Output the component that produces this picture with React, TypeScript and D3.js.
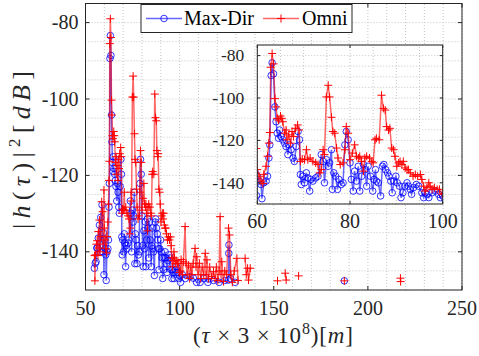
import React from 'react';
import * as d3 from 'd3';

// ---------- data ----------
const omniX = [
  54.8, 55.0, 55.3, 55.8, 56.2, 56.6, 56.8, 57.2, 57.4, 57.7, 58.1, 58.6, 59.1, 59.4, 59.8,
  60, 60.4, 60.8, 61.2, 61.4, 61.9, 62.2, 62.5, 62.7, 62.9, 63.2, 63.5, 63.8, 64.05, 64.3, 64.6,
  65, 65.3, 65.5, 65.9, 66.2, 66.4, 66.8, 67.2, 67.5, 67.8, 68.2, 68.7, 69, 69.3, 69.7, 70.2,
  70.6, 70.9, 71.4, 72, 72.6, 73.1, 73.5, 73.8, 74.2, 74.5, 74.9, 75.3, 75.6, 76, 76.3, 76.7,
  77.1, 77.4, 77.9, 78.5, 78.9, 79.2, 79.6, 80, 80.5, 81, 81.4, 81.8, 82.1, 82.5, 82.9, 83.2,
  83.6, 84.2, 84.7, 85, 85.4, 85.7, 86.3, 86.8, 87.2, 87.6, 87.9, 88.3, 88.6, 89, 89.4, 89.7,
  90.1, 90.5, 90.8, 91.2, 91.5, 91.9, 92.3, 92.6, 93, 93.6, 94.1, 94.6, 95.2, 95.5, 95.9, 96.2,
  96.6, 97, 97.3, 97.7, 98.2, 98.8, 99.3, 99.9,
  100.3, 100.8, 101.4, 102, 102.9, 103.4, 104, 104.7, 105.3, 106, 106.5, 107.2, 108.2, 108.7,
  109.1, 109.8, 110.5, 111.2, 112, 112.8, 113.6, 114.1, 114.5, 115.3, 116, 117, 118, 118.8,
  119.5, 120.3, 121, 121.5, 122, 122.4, 123.3, 124, 125, 126, 126.5, 127.2, 128, 129, 130.4,
  131, 132, 134.8, 135.4, 136.1, 136.6, 137.5, 140,
  152, 153, 156.1, 156.6, 157, 163.2, 164, 187.5, 188, 217.3, 217.4
];
const omniY = [
  -141, -147.6, -140.8, -138, -137.1, -141, -134.7, -139, -131.7, -140, -136, -126.9, -129.5, -138, -123.8,
  -133.8, -136.9, -139.2, -140.3, -136, -132.2, -127.5, -121.3, -116.3, -85.5, -79, -83.9, -100.3, -104.2, -109.6, -110.4,
  -108.5, -109.6, -111.2, -116.6, -115.1, -119.7, -117.4, -121.3, -115.8, -118.2, -114.3, -112.7, -115.1, -129.9, -128.8, -129.1,
  -124.4, -129.1, -128.3, -129.9, -130.6, -131.4, -135.3, -133.8, -124.4, -126.7, -99.5, -94, -99.5, -109.1, -115.8, -116.6,
  -123.6, -128.3, -131.4, -130.6, -124.4, -113.5, -116.6, -129.1, -126, -122.1, -127.5, -128.3, -127.5, -129.9, -134.5, -128.3,
  -127.5, -128.3, -129.9, -130.6, -119.7, -119, -119.7, -98.7, -104.9, -105.7, -113.5, -115.1, -114.3, -123.6, -124.4, -127.5,
  -132.2, -130.6, -129.9, -131.4, -129.9, -133, -133.8, -133.8, -135.3, -136.9, -136.1, -136.9, -136.1, -138.4, -141.6, -143.9,
  -142.3, -140, -141.6, -143.1, -142.3, -143.1, -143.1, -145.4,
  -145, -142, -146, -142.6, -133.4, -143, -146, -143.5, -147, -144, -146, -143, -139.1, -144,
  -141.3, -146, -143, -147, -144, -146, -140.4, -146, -142.1, -147, -144, -146.5, -145.2, -147,
  -144, -147.5, -145, -130.8, -146, -142.6, -147.8, -145, -146, -133.8, -135.6, -146, -148, -145, -141.7,
  -147.5, null, -141.7, -146, -144.3, -147.4, -144.3, null,
  -147.6, null, -145.6, -147.4, null, -146.3, null, -147.6, null, -146.9, -147.8
];

const maxDirX = [
  54.7, 55.2, 55.6, 56, 56.3, 56.8, 57.4, 57.8, 58.1, 58.8, 59.1, 59.5, 59.8,
  60, 60.4, 60.8, 61, 61.4, 61.9, 62.2, 62.5, 62.7, 63, 63.2, 63.5, 63.8, 64.05, 64.3, 64.6,
  64.8, 65.1, 65.5, 65.9, 66.2, 66.6, 66.9, 67.3, 67.7, 68, 68.4, 68.8, 69.1, 69.3, 69.5, 69.8,
  70.2, 70.6, 70.9, 71.3, 71.6, 72, 72.6, 73.1, 73.8, 74.2, 74.5, 74.9, 75.3, 75.6, 76, 76.2,
  76.5, 76.9, 77.3, 77.6, 78.1, 78.5, 78.9, 79.2, 79.6, 80, 80.3, 80.7, 81, 81.4, 81.8, 82.1,
  82.5, 82.9, 83.2, 83.6, 83.9, 84.4, 84.9, 85.2, 85.5, 85.7, 86.1, 86.6, 87, 87.3, 87.7, 88.1,
  88.4, 88.8, 89.1, 89.5, 89.9, 90.2, 90.7, 91, 91.4, 91.8, 92.3, 92.6, 93, 93.3, 93.7, 94.3,
  94.8, 95.5, 95.9, 96.2, 96.6, 97, 97.7, 98.4, 99.1, 99.5, 100,
  100.5, 101.5, 103, 105.6, 107.3, 109, 110.9, 113, 115, 118, 121, 124, 126, 126.1, 126.2,
  127, 129.5, 130, 187.5, 188
];
const maxDirY = [
  -144.3, -143, -142.6, -139, -139, -136.4, -133, -140, -131, -127.7, -140, -135, -146,
  -136.9, -139.2, -140.8, -147.5, -140, -139.2, -136.9, -128.3, -122.1, -89.4, -83.4, -88.6, -104.2, -111.2, -116.6, -119,
  -115.1, -118.2, -119.7, -121.3, -122.9, -126.7, -122.1, -124.4, -128.3, -129.9, -122.9, -115.8, -119.7, -136.1, -140.8, -136.9,
  -140, -135.3, -137.7, -143.9, -138.4, -139.2, -137.7, -136.9, -126.7, -129.9, -140, -129.1, -132.2, -130.6, -124.4, -143.1,
  -135.3, -136.9, -143.1, -138.4, -140.8, -140, -122.1, -115.8, -119.7, -130.6, -138.4, -143.9, -134.5, -139.2, -132.2, -143.9,
  -136.9, -131.4, -133.8, -141.6, -132.2, -136.9, -143.9, -138.4, -133.8, -139.2, -140, -146.2, -132.2, -131.4, -133.8, -135.3,
  -136.9, -139.2, -144.7, -139.2, -136.9, -140, -141.6, -147, -144.7, -141.6, -140, -141.6, -143.1, -145.4, -142.3, -140.8,
  -141.6, -144.7, -147, -144.7, -145.4, -147, -144.7, -143.9, -145.4, -147, -146.2,
  -148, -146, -147, -146.5, -146.9, -148, -148, -147, -148, -147.5, -148, -147.5, -147.4, -140.4, -138.2,
  -147, -148, null, -147.6, null
];

const mainXTicks = [50, 100, 150, 200, 250];
const mainYTicks = [-140, -120, -100, -80];
const insetXTicks = [60, 80, 100];
const insetYTicks = [-140, -120, -100, -80];
const legendLabels = ['Max-Dir', 'Omni'];

// ---------- helpers ----------
const W = 479;
const H = 356;
const BLUE = '#0000ff';
const RED = '#ff0000';
const AX = '#262626';
const GRID = '#c4c4c4';
const FONT = 'Liberation Serif';

type Pt = [number, number | null];
const zip = (xs: number[], ys: (number | null)[]): Pt[] => xs.map((x, i) => [x, ys[i]]);
const omni = zip(omniX, omniY);
const maxDir = zip(maxDirX, maxDirY);

function Series({ data, sx, sy, color, marker }: any) {
  const line = d3
    .line<Pt>()
    .defined((d) => d[1] !== null)
    .x((d) => sx(d[0]))
    .y((d) => sy(d[1] as number));
  const pts = data.filter((d: Pt) => d[1] !== null);
  return (
    <g>
      <path d={line(data) || ''} fill="none" stroke={color} strokeOpacity={0.6} strokeWidth={1.5} />
      {pts.map((d: Pt, i: number) => {
        const x = sx(d[0]);
        const y = sy(d[1] as number);
        return marker === 'o' ? (
          <circle key={i} cx={x} cy={y} r={3.3} fill="none" stroke={color} strokeWidth={0.8} />
        ) : (
          <path key={i} d={`M${x - 4},${y}H${x + 4}M${x},${y - 4}V${y + 4}`} stroke={color} strokeWidth={1} />
        );
      })}
    </g>
  );
}

function Panel({ id, sx, sy, xTicks, yTicks, xMinor, yMinor, tick, yFont, xFont, yLabelGap, xLabelDy }: any) {
  const [x0, x1] = sx.range();
  const [y0, y1] = sy.range(); // y0 bottom, y1 top
  return (
    <g>
      <rect x={x0} y={y1} width={x1 - x0} height={y0 - y1} fill="#fff" />
      <clipPath id={id}>
        <rect x={x0} y={y1} width={x1 - x0} height={y0 - y1} />
      </clipPath>
      <g stroke={GRID} strokeWidth={1} strokeDasharray="1,2">
        {xMinor.map((v: number) => (
          <line key={'gx' + v} x1={sx(v)} x2={sx(v)} y1={y0} y2={y1} />
        ))}
        {yMinor.map((v: number) => (
          <line key={'gy' + v} x1={x0} x2={x1} y1={sy(v)} y2={sy(v)} />
        ))}
      </g>
      <g clipPath={`url(#${id})`}>
        <Series data={maxDir} sx={sx} sy={sy} color={BLUE} marker="o" />
        <Series data={omni} sx={sx} sy={sy} color={RED} marker="+" />
      </g>
      <rect x={x0} y={y1} width={x1 - x0} height={y0 - y1} fill="none" stroke={AX} strokeWidth={1} />
      <g stroke={AX} strokeWidth={1}>
        {xTicks.map((v: number) => (
          <g key={'tx' + v}>
            <line x1={sx(v)} x2={sx(v)} y1={y0} y2={y0 - tick} />
            <line x1={sx(v)} x2={sx(v)} y1={y1} y2={y1 + tick} />
          </g>
        ))}
        {yTicks.map((v: number) => (
          <g key={'ty' + v}>
            <line x1={x0} x2={x0 + tick} y1={sy(v)} y2={sy(v)} />
            <line x1={x1} x2={x1 - tick} y1={sy(v)} y2={sy(v)} />
          </g>
        ))}
      </g>
      <g fill={AX} style={{ fontFamily: FONT }}>
        {xTicks.map((v: number) => (
          <text key={'lx' + v} x={sx(v)} y={y0 + xLabelDy} fontSize={xFont} textAnchor="middle">
            {v}
          </text>
        ))}
        {yTicks.map((v: number) => (
          <text key={'ly' + v} x={x0 - yLabelGap} y={sy(v)} dy="0.33em" fontSize={yFont} textAnchor="end">
            {String(v).replace('−', '-')}
          </text>
        ))}
      </g>
    </g>
  );
}

export default function App() {
  const mx = d3.scaleLinear().domain([50, 250]).range([85.5, 462]);
  const my = d3.scaleLinear().domain([-150, -75]).range([290, 3.5]);
  const ix = d3.scaleLinear().domain([60, 100]).range([257.3, 442.7]);
  const iy = d3.scaleLinear().domain([-150, -75]).range([204, 45]);

  const mainXMinor = d3.range(50, 251, 10);
  const mainYMinor = d3.range(-150, -74, 5);
  const insetXMinor = d3.range(60, 101, 5);
  const insetYMinor = d3.range(-150, -74, 5);

  const lgY = 18.5;
  return (
    <svg width={W} height={H} style={{ position: 'absolute', left: 0, top: 0, background: '#fff', fontFamily: FONT }}>
      <rect width={W} height={H} fill="#fff" />
      <Panel id="clipMain" sx={mx} sy={my} xTicks={mainXTicks} yTicks={mainYTicks} xMinor={mainXMinor}
        yMinor={mainYMinor} tick={4} yFont={20} xFont={20} yLabelGap={7} xLabelDy={25} />
      <Panel id="clipInset" sx={ix} sy={iy} xTicks={insetXTicks} yTicks={insetYTicks} xMinor={insetXMinor}
        yMinor={insetYMinor} tick={3} yFont={17.5} xFont={20} yLabelGap={13} xLabelDy={24} />

      {/* legend */}
      <g style={{ fontFamily: FONT }}>
        <rect x={141} y={4.5} width={211} height={28} fill="#fff" stroke={AX} strokeWidth={1} />
        <line x1={146} x2={182} y1={lgY} y2={lgY} stroke={BLUE} strokeOpacity={0.6} strokeWidth={1.5} />
        <circle cx={164} cy={lgY} r={3.3} fill="none" stroke={BLUE} strokeWidth={0.8} />
        <text x={184} y={lgY + 6.5} fontSize={20} fill="#000">{legendLabels[0]}</text>
        <line x1={263} x2={299} y1={lgY} y2={lgY} stroke={RED} strokeOpacity={0.6} strokeWidth={1.5} />
        <path d={`M${281 - 4},${lgY}H${281 + 4}M281,${lgY - 4}V${lgY + 4}`} stroke={RED} strokeWidth={1} />
        <text x={302} y={lgY + 6.5} fontSize={20} fill="#000">{legendLabels[1]}</text>
      </g>

      {/* axis labels */}
      <text transform="translate(30,150) rotate(-90)" textAnchor="middle" style={{ fontFamily: FONT }}
        fontSize={26} fill={AX} textLength={158} lengthAdjust="spacing">
        |<tspan fontStyle="italic">h</tspan>(<tspan fontStyle="italic">τ</tspan>)|
        <tspan dy={-10} fontSize={17}>2</tspan>
        <tspan dy={10}>[</tspan>
        <tspan fontStyle="italic">dB</tspan>]
      </text>
      <text x={273} y={343} textAnchor="middle" style={{ fontFamily: FONT }} fontSize={23} fill={AX}
        textLength={160} lengthAdjust="spacing">
        (<tspan fontStyle="italic">τ</tspan> × 3 × 10
        <tspan dy={-9} fontSize={16}>8</tspan>
        <tspan dy={9}>)[</tspan>
        <tspan fontStyle="italic">m</tspan>]
      </text>
    </svg>
  );
}
